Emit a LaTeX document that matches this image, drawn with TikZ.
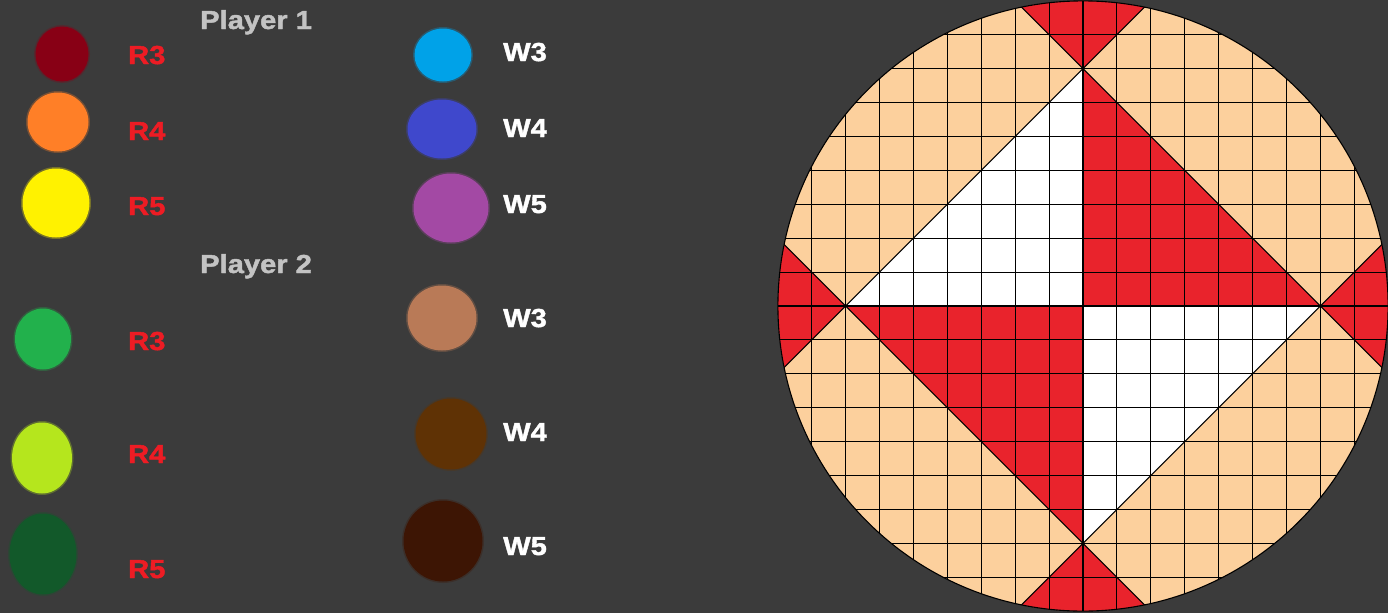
\documentclass[tikz,border=0pt]{standalone}
\usepackage{fontspec}
\setmainfont{Liberation Sans}[FakeStretch=1.12, BoldFeatures={FakeBold=1.6}]
\usetikzlibrary{shapes.geometric}
\definecolor{bg}{HTML}{3B3B3B}
\definecolor{peach}{HTML}{FCD09D}
\definecolor{bred}{HTML}{E9232C}
\definecolor{tred}{HTML}{ED1C24}
\definecolor{pgray}{HTML}{C3C3C3}
\definecolor{cA}{HTML}{880015}
\definecolor{cB}{HTML}{FF7F27}
\definecolor{cC}{HTML}{FFF200}
\definecolor{cD}{HTML}{22B14C}
\definecolor{cE}{HTML}{B5E61D}
\definecolor{cF}{HTML}{12592A}
\definecolor{cG}{HTML}{00A2E8}
\definecolor{cH}{HTML}{3F48CC}
\definecolor{cI}{HTML}{A349A4}
\definecolor{cJ}{HTML}{B97A57}
\definecolor{cK}{HTML}{5F3205}
\definecolor{cL}{HTML}{3D1504}
\begin{document}
\begin{tikzpicture}[x=1pt,y=-1pt,
  blob/.style={ellipse, inner sep=0pt, fill=#1, draw=#1, draw opacity=0.3, line width=3pt},
  lab/.style={anchor=base west, inner sep=0pt, font=\fontsize{26}{30}\selectfont\bfseries},
  rlab/.style={lab, text=tred},
  wlab/.style={lab, text=white},
  plab/.style={lab, text=pgray},
  gridline/.style={draw=black, line width=1.1pt}]
\fill[bg] (0,0) rectangle (1388,613);
\useasboundingbox (0,0) rectangle (1388,613);

% headings
\node[plab] (p1) at (200,29) {Player 1};
\node[plab] (p2) at (200,273) {Player 2};

% player 1 blobs
\node[blob=cA, minimum width=53pt, minimum height=55pt] (b1) at (62,54) {};
\node[blob=cB, minimum width=61pt, minimum height=59pt] (b2) at (58,122) {};
\node[blob=cC, minimum width=67pt, minimum height=69pt] (b3) at (56,203) {};
\node[blob=cG, minimum width=57pt, minimum height=53pt] (b7) at (443,55) {};
\node[blob=cH, minimum width=69pt, minimum height=59pt] (b8) at (442,129) {};
\node[blob=cI, minimum width=75pt, minimum height=69pt] (b9) at (451,208) {};
% player 2 blobs
\node[blob=cD, minimum width=56pt, minimum height=61pt] (b4) at (43,339) {};
\node[blob=cE, minimum width=60pt, minimum height=71pt] (b5) at (42,458) {};
\node[blob=cF, minimum width=67pt, minimum height=81pt] (b6) at (43,554) {};
\node[blob=cJ, minimum width=69pt, minimum height=65pt] (b10) at (442,318) {};
\node[blob=cK, minimum width=71pt, minimum height=71pt] (b11) at (451,434) {};
\node[blob=cL, minimum width=79pt, minimum height=81pt] (b12) at (443,541) {};

% labels
\node[rlab] (r3a) at (128,64) {R3};
\node[rlab] (r4a) at (128,140) {R4};
\node[rlab] (r5a) at (128,215) {R5};
\node[rlab] (r3b) at (128,350) {R3};
\node[rlab] (r4b) at (128,463) {R4};
\node[rlab] (r5b) at (128,578) {R5};
\node[wlab] (w3a) at (503,61) {W3};
\node[wlab] (w4a) at (503,137) {W4};
\node[wlab] (w5a) at (503,213) {W5};
\node[wlab] (w3b) at (503,327) {W3};
\node[wlab] (w4b) at (503,441) {W4};
\node[wlab] (w5b) at (503,555) {W5};

% board
\begin{scope}[xshift=1083pt, yshift=-306pt, x=33.9pt, y=33.9pt]
  \coordinate (O) at (0,0);
  \begin{scope}
    \clip (0,0) circle [radius=9];
    \fill[peach] (-9.2,-9.2) rectangle (9.2,9.2);
    \fill[white] (-7,0) -- (0,7) -- (0,0) -- cycle;
    \fill[white] (0,-7) -- (7,0) -- (0,0) -- cycle;
    \fill[bred] (0,7) -- (7,0) -- (0,0) -- cycle;
    \fill[bred] (-7,0) -- (0,-7) -- (0,0) -- cycle;
    \fill[bred] (0,7) -- (-3,10) -- (3,10) -- cycle;
    \fill[bred] (0,-7) -- (-3,-10) -- (3,-10) -- cycle;
    \fill[bred] (7,0) -- (10,3) -- (10,-3) -- cycle;
    \fill[bred] (-7,0) -- (-10,3) -- (-10,-3) -- cycle;
    \draw[gridline, step=1] (-9,-9) grid (9,9);
    \draw[gridline] (-10,-3) -- (3,10);
    \draw[gridline] (-3,-10) -- (10,3);
    \draw[gridline] (-3,10) -- (10,-3);
    \draw[gridline] (-10,3) -- (3,-10);
  \end{scope}
  \draw[line width=1.1pt] (O) circle [radius=9];
\end{scope}
\end{tikzpicture}
\end{document}
